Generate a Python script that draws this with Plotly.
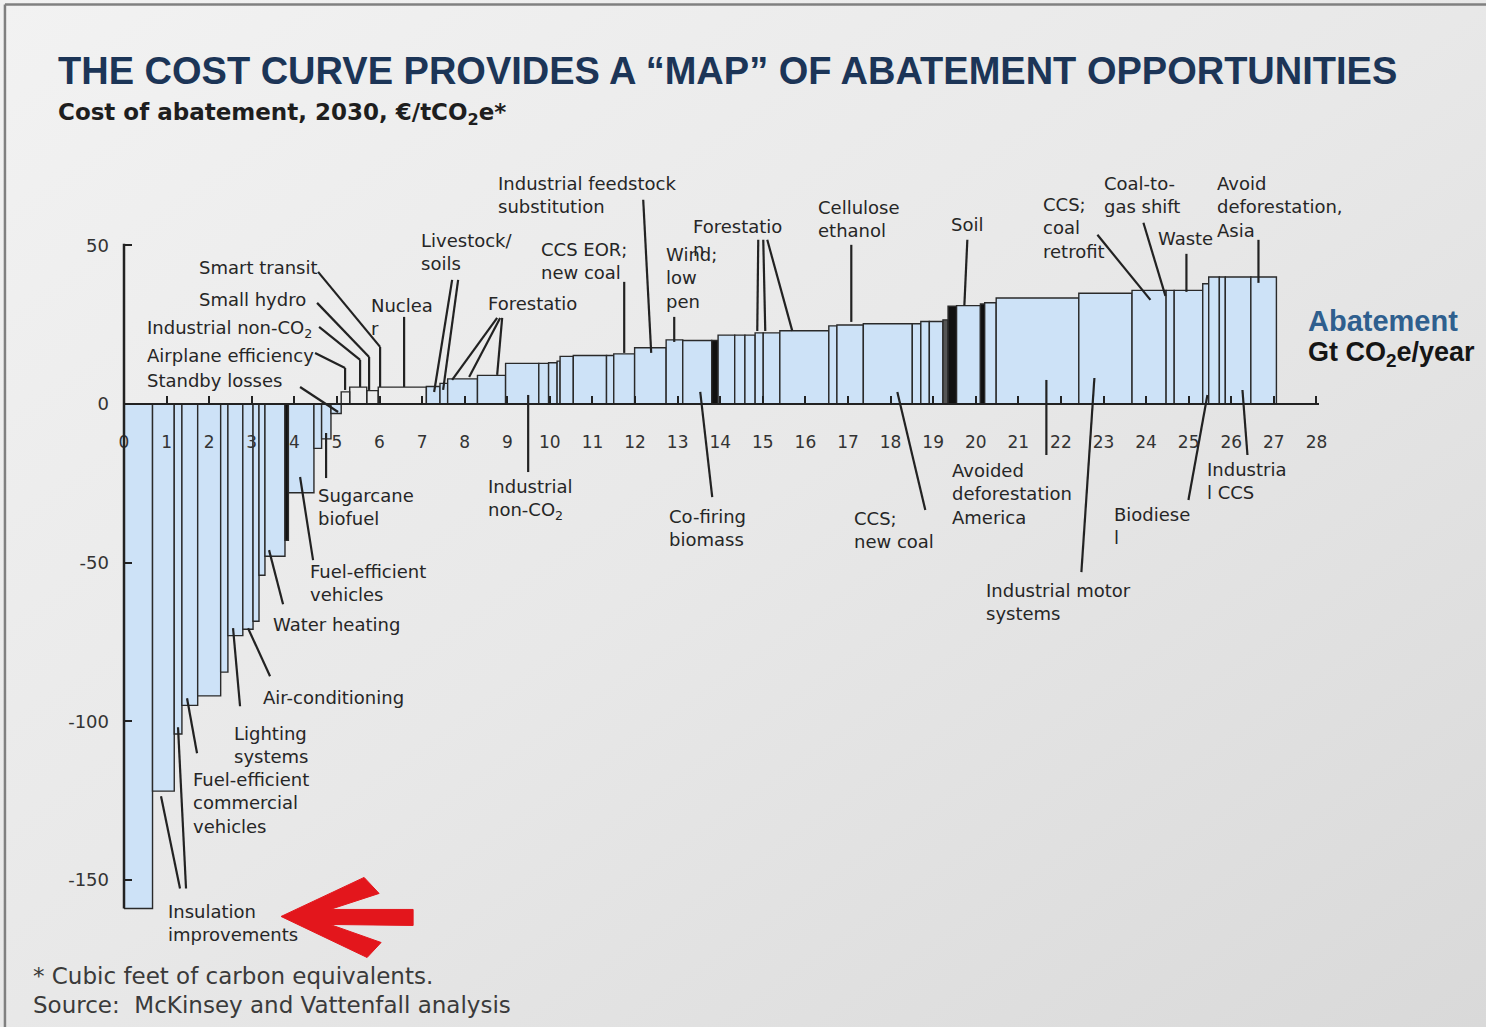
import base64
import numpy as np
import plotly.graph_objects as go

# ---------------- data ----------------
# abatement potential of each lever (Gt CO2e/year) in curve order
widths = [0.67, 0.51, 0.18, 0.37, 0.54, 0.17, 0.35, 0.24, 0.14, 0.14, 0.47, 0.08,
          0.60, 0.18, 0.22, 0.24,
          0.20, 0.40, 0.27, 1.13,
          0.32, 0.18, 0.70, 0.66, 0.78, 0.23, 0.20, 0.07, 0.31, 0.78, 0.17, 0.49,
          0.74, 0.39, 0.68, 0.15, 0.39, 0.24, 0.24, 0.19, 0.39, 1.15, 0.19, 0.62,
          1.15, 0.20, 0.20, 0.32, 0.12, 0.20, 0.56, 0.10, 0.27, 1.94, 1.25, 0.80,
          0.19, 0.67, 0.14, 0.25, 0.14, 0.60, 0.60]
# cost of abatement (EUR / tCO2e)
costs = [-159, -122, -104, -95, -92, -84.5, -73, -71, -68.5, -54, -48, -43,
         -28, -14, -11, -3,
         3.8, 5.3, 4.2, 5.3,
         5.5, 6.5, 7.9, 9.0, 12.8, 12.8, 13.0, 13.5, 15.0, 15.3, 15.3, 15.8,
         17.7, 20.2, 20.0, 20.0, 21.7, 21.7, 21.7, 22.4, 22.4, 23.1, 24.6, 24.9,
         25.3, 25.3, 26.0, 26.0, 26.5, 30.8, 31.0, 31.5, 31.9, 33.4, 34.9, 35.8,
         35.8, 35.8, 37.9, 40.0, 40.0, 40.0, 40.0]

x_tick_vals = list(range(0, 29))
y_tick_vals = [50, 0, -50, -100, -150]

# style groups (bar index -> look)
OPEN_BARS = {16, 17, 18, 19}
DARK_BARS = {11, 35, 49, 51}
GREY_BARS = {48}

# ---------------- geometry ----------------
W, H = 1486, 1027
X0PX, XS = 124.0, 42.57
Y0PX, YS = 404.0, 3.17
X_RANGE = [0, 28.06]
Y_RANGE = [-162, 75]
L = X0PX
plot_w = (X_RANGE[1] - X_RANGE[0]) * XS
R = W - L - plot_w
T = Y0PX - Y_RANGE[1] * YS
plot_h = (Y_RANGE[1] - Y_RANGE[0]) * YS
B = H - T - plot_h


def px(x):
    return (x - L) / plot_w


def py(y):
    return (T + plot_h - y) / plot_h


# ---------------- bars ----------------
w = np.array(widths)
right = np.cumsum(w)
centers = right - w / 2

fills = []
for i in range(len(widths)):
    if i in OPEN_BARS:
        fills.append("rgba(0,0,0,0)")
    elif i in DARK_BARS:
        fills.append("#111111")
    elif i in GREY_BARS:
        fills.append("#555555")
    else:
        fills.append("#cde2f7")

fig = go.Figure(go.Bar(
    x=centers, y=costs, width=widths,
    marker=dict(color=fills, line=dict(color="#2a2a2a", width=1.4)),
    hoverinfo="skip", showlegend=False,
))

# ---------------- background ----------------
svg = ('<svg xmlns="http://www.w3.org/2000/svg" width="200" height="200" '
       'preserveAspectRatio="none"><defs><linearGradient id="g" x1="0" y1="0" '
       'x2="1" y2="1"><stop offset="0" stop-color="#f2f2f2"/>'
       '<stop offset="0.5" stop-color="#e8e8e8"/>'
       '<stop offset="1" stop-color="#d9d9d9"/></linearGradient></defs>'
       '<rect width="200" height="200" fill="url(#g)"/></svg>')
bg_src = "data:image/svg+xml;base64," + base64.b64encode(svg.encode()).decode()

shapes = []
line_col = "#222222"


def seg(points, width=2.2, color=line_col):
    for (x0, y0), (x1, y1) in zip(points[:-1], points[1:]):
        shapes.append(dict(type="line", xref="paper", yref="paper",
                           x0=px(x0), y0=py(y0), x1=px(x1), y1=py(y1),
                           line=dict(color=color, width=width), layer="above"))


# frame
seg([(5, 1027), (5, 5), (1486, 5)], width=2.5, color="#808080")
# y axis line
seg([(X0PX, Y0PX - 50.5 * YS), (X0PX, Y0PX + 159 * YS)], width=2.5, color="#222222")

# leader lines
leaders = [
    [(318, 272), (380, 347), (380, 387)],
    [(317, 303), (369, 357), (369, 390)],
    [(319, 327), (360, 360), (360, 387)],
    [(315, 353), (345, 368), (345, 390)],
    [(300, 387), (338, 412)],
    [(404, 317), (404, 387)],
    [(452, 280), (434, 392)],
    [(458, 280), (443, 390)],
    [(497, 318), (452, 380)],
    [(500, 318), (469, 377)],
    [(502, 318), (497, 375)],
    [(624, 282), (624, 353)],
    [(643, 200), (651, 353)],
    [(758, 240), (757, 331)],
    [(763, 240), (765, 331)],
    [(767, 240), (792, 331)],
    [(674, 317), (674, 342)],
    [(851, 245), (851, 322)],
    [(967, 240), (964, 306)],
    [(1097, 235), (1150, 300)],
    [(1143, 223), (1165, 296)],
    [(1186, 254), (1186, 292)],
    [(1258, 240), (1258, 283)],
    [(528, 395), (528, 472)],
    [(700, 392), (712, 497)],
    [(897, 392), (925, 510)],
    [(1046, 380), (1046, 455)],
    [(1094, 378), (1081, 572)],
    [(1207, 395), (1188, 500)],
    [(1242, 390), (1247, 455)],
    [(326, 433), (326, 478)],
    [(300, 477), (313, 560)],
    [(269, 550), (283, 604)],
    [(248, 628), (270, 676)],
    [(233, 628), (240, 706)],
    [(187, 698), (197, 753)],
    [(161, 796), (180, 888)],
    [(178, 727), (186, 888)],
]
for ld in leaders:
    seg(ld)

# red arrow
arrow_pts = [(281, 916), (364, 877), (379, 893), (330, 909), (413, 909),
             (413, 925), (330, 924), (381, 942), (367, 957)]
path = "M " + " L ".join(f"{px(a):.5f},{py(b):.5f}" for a, b in arrow_pts) + " Z"
shapes.append(dict(type="path", xref="paper", yref="paper", path=path,
                   fillcolor="#e3161c", line=dict(color="#e3161c", width=1),
                   layer="above"))

# ---------------- text ----------------
annotations = []
LBL = dict(family="DejaVu Sans", size=18, color="#262626")


def txt(text, x, yc, font, xanchor="left"):
    annotations.append(dict(text=text, x=px(x), y=py(yc), xref="paper", yref="paper",
                            xanchor=xanchor, yanchor="middle", showarrow=False,
                            align="left", font=font, borderpad=0))


def label(text, x, yc_first):
    n = text.count("<br>") + 1
    yc = yc_first + (n - 1) * 24 / 2
    txt(text, x, yc, LBL)


labels = [
    ("Smart transit", 198, 268),
    ("Small hydro", 198, 300),
    ("Industrial non-CO<sub>2</sub>", 146, 329),
    ("Airplane efficiency", 146, 356),
    ("Standby losses", 146, 381),
    ("Nuclea<br>r", 370, 305),
    ("Livestock/<br>soils", 420, 240),
    ("Forestatio", 487, 304),
    ("CCS EOR;<br>new coal", 540, 249),
    ("Industrial feedstock<br>substitution", 497, 183),
    ("Forestatio<br>n", 692, 226),
    ("Wind;<br>low<br>pen", 665, 254),
    ("Cellulose<br>ethanol", 817, 207),
    ("Soil", 950, 225),
    ("CCS;<br>coal<br>retrofit", 1042, 204),
    ("Coal-to-<br>gas shift", 1103, 183),
    ("Waste", 1157, 239),
    ("Avoid<br>deforestation,<br>Asia", 1216, 183),
    ("Industrial<br>non-CO<sub>2</sub>", 487, 487),
    ("Co-firing<br>biomass", 668, 516),
    ("CCS;<br>new coal", 853, 518),
    ("Avoided<br>deforestation<br>America", 951, 470),
    ("Industrial motor<br>systems", 985, 590),
    ("Biodiese<br>l", 1113, 514),
    ("Industria<br>l CCS", 1206, 469),
    ("Sugarcane<br>biofuel", 317, 495),
    ("Fuel-efficient<br>vehicles", 309, 571),
    ("Water heating", 272, 624),
    ("Air-conditioning", 262, 697),
    ("Lighting<br>systems", 233, 733),
    ("Fuel-efficient<br>commercial<br>vehicles", 192, 779),
    ("Insulation<br>improvements", 167, 911),
]
for t, x, y in labels:
    label(t, x, y)

txt("THE COST CURVE PROVIDES A \u201cMAP\u201d OF ABATEMENT OPPORTUNITIES", 57, 71,
    dict(family="Liberation Sans", size=38, color="#1c3557", weight="bold"))
txt("Cost of abatement, 2030, \u20ac/tCO<sub>2</sub>e*", 57, 114,
    dict(family="DejaVu Sans", size=23, color="#1e1e1e", weight="bold"))
txt("Abatement", 1307, 321,
    dict(family="Liberation Sans", size=29, color="#2f5f8e", weight="bold"))
txt("Gt CO<sub>2</sub>e/year", 1307, 354,
    dict(family="Liberation Sans", size=27, color="#151515", weight="bold"))
txt("* Cubic feet of carbon equivalents.", 32, 975,
    dict(family="DejaVu Sans", size=23, color="#3a3a3a"))
txt("Source:\u00a0 McKinsey and Vattenfall analysis", 32, 1004,
    dict(family="DejaVu Sans", size=23, color="#3a3a3a"))

# ---------------- layout ----------------
fig.update_layout(
    width=W, height=H,
    margin=dict(l=L, r=R, t=T, b=B, pad=0),
    paper_bgcolor="#e8e8e8", plot_bgcolor="rgba(0,0,0,0)",
    bargap=0,
    shapes=shapes,
    annotations=annotations,
    images=[dict(source=bg_src, xref="paper", yref="paper",
                 x=px(0), y=py(0), sizex=W / plot_w, sizey=H / plot_h,
                 xanchor="left", yanchor="top", sizing="stretch",
                 layer="below", opacity=1)],
    xaxis=dict(range=X_RANGE, tickvals=x_tick_vals,
               ticktext=[str(v) for v in x_tick_vals],
               ticks="inside", ticklen=7, tickwidth=2, tickcolor="#222222",
               showline=True, linecolor="#222222", linewidth=2.5,
               anchor="free", position=(0 - Y_RANGE[0]) / (Y_RANGE[1] - Y_RANGE[0]),
               showgrid=False, zeroline=False, ticklabelstandoff=22,
               tickfont=dict(family="DejaVu Sans", size=17, color="#333333"),
               layer="above traces"),
    yaxis=dict(range=Y_RANGE, tickvals=y_tick_vals,
               ticktext=[str(v) for v in y_tick_vals],
               ticks="inside", ticklen=8, tickwidth=2, tickcolor="#222222",
               showline=False, showgrid=False, zeroline=False,
               ticklabelstandoff=14,
               tickfont=dict(family="DejaVu Sans", size=18, color="#333333")),
    hovermode=False,
)

fig.write_html("out.html",
               config={"displayModeBar": False, "staticPlot": True},
               post_script="document.body.style.margin='0';document.body.style.overflow='hidden';")
